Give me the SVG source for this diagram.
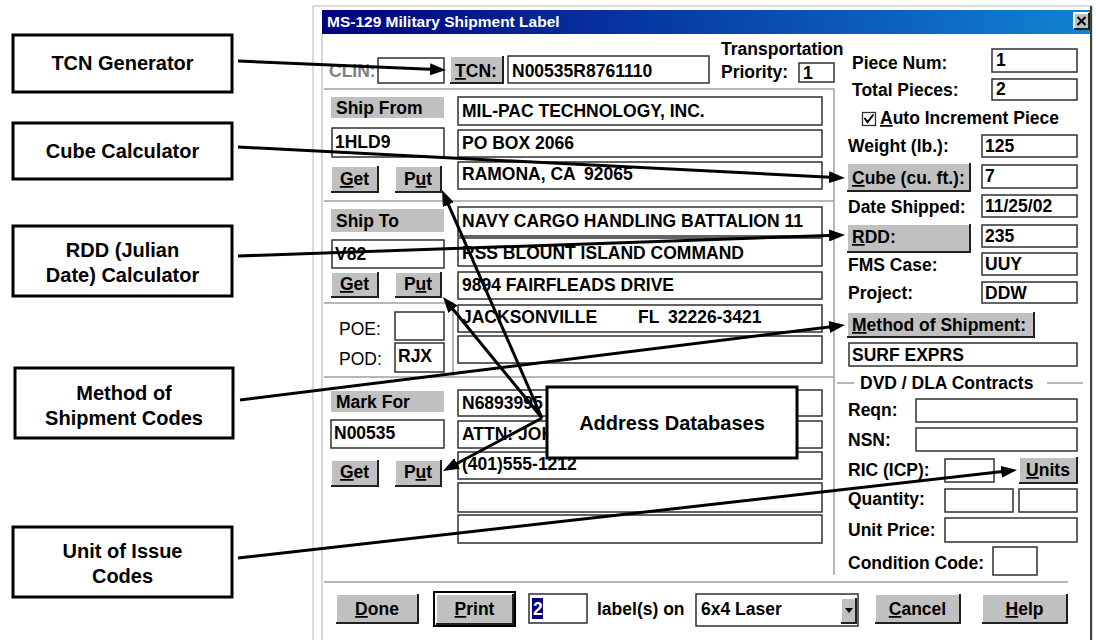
<svg xmlns="http://www.w3.org/2000/svg" width="1096" height="640" viewBox="0 0 1096 640">
<style>
.ui{font-family:"Liberation Sans",Arial,sans-serif;font-weight:bold;font-size:17.5px;fill:#000}
.gr{fill:#808080}
.tb{fill:#fff;stroke:#303030;stroke-width:1.5}
.bf{fill:#c0c0c0}
.bl{fill:none;stroke:#fff;stroke-width:2}
.bd{fill:none;stroke:#202020;stroke-width:2}
.lab{fill:#c0c0c0}
.sep{stroke:#a0a0a0;stroke-width:1.5;fill:none}
.co{fill:#fff;stroke:#000;stroke-width:3}
.ct{font-family:"Liberation Sans",Arial,sans-serif;font-weight:bold;font-size:20px;fill:#000;text-anchor:middle}
.cn{stroke:#000;stroke-width:3;fill:none;marker-end:url(#ah)}
.u{text-decoration:underline}
.mid{text-anchor:middle}
</style>
<defs>
<linearGradient id="tg" x1="0" y1="0" x2="1" y2="0">
<stop offset="0" stop-color="#000080"/>
<stop offset="1" stop-color="#1084d0"/>
</linearGradient>
<marker id="ah" markerUnits="userSpaceOnUse" markerWidth="16" markerHeight="12" refX="6" refY="6" orient="auto">
<path d="M0,0 L16,6 L0,12 z" fill="#000"/>
</marker>
</defs>
<rect width="1096" height="640" fill="#fff"/>

<g id="window">
<rect x="313" y="6" width="779" height="640" fill="#fff" stroke="#d4d0c8" stroke-width="1.5"/>
<line x1="322" y1="34" x2="322" y2="640" stroke="#c8c8c8" stroke-width="1.5"/>
<line x1="1091" y1="6" x2="1091" y2="640" stroke="#404040" stroke-width="2"/>
<rect x="322" y="10" width="768" height="24" fill="url(#tg)"/>
<text x="327" y="27" style="font-family:'Liberation Sans',Arial,sans-serif;font-weight:bold;font-size:15.5px;fill:#fff">MS-129 Military Shipment Label</text>
<rect class="bf" x="1074" y="13" width="15" height="16"/>
<path class="bl" d="M1074,29 V13 H1089" stroke-width="1"/>
<path class="bd" d="M1074,29 H1089 V13" stroke-width="1.5"/>
<path d="M1077.5,17 L1085.5,25 M1085.5,17 L1077.5,25" stroke="#000" stroke-width="2"/>

<path class="sep" d="M324,89 H834 V575 M324,201 H834 M324,303 H453 V377 M324,377 H834 M324,582 H1068 M837,383 H854 M1047,383 H1083"/>
</g>

<g id="top-row">
<text class="ui gr" x="329" y="77">CLIN:</text>
<rect class="tb" x="378" y="58" width="66" height="25"/>
<rect class="bf" x="450" y="56" width="53" height="27"/>
<path class="bl" d="M450,83 V56 H503"/><path class="bd" d="M450,83 H503 V56"/>
<text class="ui mid" x="476" y="77"><tspan class="u">T</tspan>CN:</text>
<rect class="tb" x="508" y="56" width="201" height="27"/>
<text class="ui" x="512" y="77">N00535R8761110</text>
<text class="ui" x="721" y="55">Transportation</text>
<text class="ui" x="721" y="78">Priority:</text>
<rect class="tb" x="799" y="63" width="35" height="19"/>
<text class="ui" x="803" y="79">1</text>
</g>

<g id="ship-from">
<rect class="lab" x="331" y="97" width="113" height="21"/>
<text class="ui" x="336" y="114">Ship From</text>
<rect class="tb" x="332" y="128" width="112" height="29"/>
<text class="ui" x="335" y="148">1HLD9</text>
<rect class="bf" x="331" y="166" width="47" height="26"/>
<path class="bl" d="M331,192 V166 H378"/><path class="bd" d="M331,192 H378 V166"/>
<text class="ui mid" x="354.5" y="185"><tspan class="u">G</tspan>et</text>
<rect class="bf" x="395" y="166" width="46" height="26"/>
<path class="bl" d="M395,192 V166 H441"/><path class="bd" d="M395,192 H441 V166"/>
<text class="ui mid" x="418" y="185">P<tspan class="u">u</tspan>t</text>
<rect class="tb" x="458" y="97" width="364" height="28"/>
<text class="ui" x="462" y="117">MIL-PAC TECHNOLOGY, INC.</text>
<rect class="tb" x="458" y="130" width="364" height="27"/>
<text class="ui" x="462" y="149">PO BOX 2066</text>
<rect class="tb" x="458" y="162" width="364" height="27"/>
<text class="ui" x="462" y="180">RAMONA, CA</text>
<text class="ui" x="584" y="180">92065</text>
</g>

<g id="ship-to">
<rect class="lab" x="331" y="209" width="113" height="23"/>
<text class="ui" x="336" y="227">Ship To</text>
<rect class="tb" x="332" y="240" width="112" height="28"/>
<text class="ui" x="335" y="260">V82</text>
<rect class="bf" x="331" y="272" width="47" height="25"/>
<path class="bl" d="M331,297 V272 H378"/><path class="bd" d="M331,297 H378 V272"/>
<text class="ui mid" x="354.5" y="290"><tspan class="u">G</tspan>et</text>
<rect class="bf" x="395" y="272" width="46" height="25"/>
<path class="bl" d="M395,297 V272 H441"/><path class="bd" d="M395,297 H441 V272"/>
<text class="ui mid" x="418" y="290">P<tspan class="u">u</tspan>t</text>
<rect class="tb" x="458" y="207" width="364" height="29"/>
<text class="ui" x="462" y="227">NAVY CARGO HANDLING BATTALION 11</text>
<rect class="tb" x="458" y="238" width="364" height="28"/>
<text class="ui" x="462" y="259">RSS BLOUNT ISLAND COMMAND</text>
<rect class="tb" x="458" y="272" width="364" height="27"/>
<text class="ui" x="462" y="291">9894 FAIRFLEADS DRIVE</text>
<rect class="tb" x="458" y="305" width="364" height="27"/>
<text class="ui" x="462" y="323">JACKSONVILLE</text>
<text class="ui" x="638" y="323">FL</text>
<text class="ui" x="668" y="323">32226-3421</text>
<rect class="tb" x="458" y="336" width="364" height="27"/>
</g>

<g id="poe-pod">
<text class="ui" style="font-weight:normal" x="339" y="335">POE:</text>
<rect class="tb" x="395" y="312" width="49" height="28"/>
<text class="ui" style="font-weight:normal" x="339" y="365">POD:</text>
<rect class="tb" x="395" y="343" width="49" height="29"/>
<text class="ui" x="398" y="362">RJX</text>
</g>

<g id="mark-for">
<rect class="lab" x="331" y="391" width="113" height="21"/>
<text class="ui" x="336" y="408">Mark For</text>
<rect class="tb" x="331" y="420" width="113" height="28"/>
<text class="ui" x="334" y="439">N00535</text>
<rect class="bf" x="331" y="460" width="47" height="26"/>
<path class="bl" d="M331,486 V460 H378"/><path class="bd" d="M331,486 H378 V460"/>
<text class="ui mid" x="354.5" y="478"><tspan class="u">G</tspan>et</text>
<rect class="bf" x="395" y="460" width="46" height="26"/>
<path class="bl" d="M395,486 V460 H441"/><path class="bd" d="M395,486 H441 V460"/>
<text class="ui mid" x="418" y="478">P<tspan class="u">u</tspan>t</text>
<rect class="tb" x="458" y="390" width="364" height="26"/>
<text class="ui" x="462" y="409">N6893995</text>
<rect class="tb" x="458" y="421" width="364" height="27"/>
<text class="ui" x="462" y="440">ATTN: JOH</text>
<rect class="tb" x="458" y="452" width="364" height="27"/>
<text class="ui" x="462" y="470">(401)555-1212</text>
<rect class="tb" x="458" y="483" width="364" height="29"/>
<rect class="tb" x="458" y="515" width="364" height="28"/>
</g>

<g id="pieces">
<text class="ui" x="852" y="69">Piece Num:</text>
<rect class="tb" x="992" y="49" width="85" height="23"/>
<text class="ui" x="996" y="66">1</text>
<text class="ui" x="852" y="96">Total Pieces:</text>
<rect class="tb" x="992" y="79" width="85" height="21"/>
<text class="ui" x="996" y="95">2</text>
<rect x="862.5" y="112.5" width="13" height="13" fill="#fff" stroke="#303030" stroke-width="1.3"/>
<path d="M864.5,118 L867.5,122 L873.5,114.5" fill="none" stroke="#000" stroke-width="2"/>
<text class="ui" x="880" y="124"><tspan class="u">A</tspan>uto Increment Piece</text>
</g>

<g id="shipment-info">
<text class="ui" x="848" y="152">Weight (lb.):</text>
<rect class="tb" x="982" y="135" width="95" height="22"/>
<text class="ui" x="985" y="152">125</text>
<rect class="bf" x="847" y="163" width="123" height="28"/>
<path class="bl" d="M847,191 V163 H970"/><path class="bd" d="M847,191 H970 V163"/>
<text class="ui" x="852" y="184"><tspan class="u">C</tspan>ube (cu. ft.):</text>
<rect class="tb" x="982" y="165" width="95" height="23"/>
<text class="ui" x="985" y="182">7</text>
<text class="ui" x="848" y="213">Date Shipped:</text>
<rect class="tb" x="982" y="195" width="95" height="22"/>
<text class="ui" x="985" y="212">11/25/02</text>
<rect class="bf" x="847" y="224" width="123" height="28"/>
<path class="bl" d="M847,252 V224 H970"/><path class="bd" d="M847,252 H970 V224"/>
<text class="ui" x="852" y="243"><tspan class="u">R</tspan>DD:</text>
<rect class="tb" x="982" y="225" width="95" height="22"/>
<text class="ui" x="985" y="242">235</text>
<text class="ui" x="848" y="271">FMS Case:</text>
<rect class="tb" x="982" y="253" width="95" height="22"/>
<text class="ui" x="985" y="270">UUY</text>
<text class="ui" x="848" y="299">Project:</text>
<rect class="tb" x="982" y="282" width="95" height="21"/>
<text class="ui" x="985" y="299">DDW</text>
<rect class="bf" x="847" y="312" width="187" height="25"/>
<path class="bl" d="M847,337 V312 H1034"/><path class="bd" d="M847,337 H1034 V312"/>
<text class="ui" x="852" y="331"><tspan class="u">M</tspan>ethod of Shipment:</text>
<rect class="tb" x="849" y="343" width="228" height="23"/>
<text class="ui" x="852" y="361">SURF EXPRS</text>
</g>

<g id="dvd-dla">
<text class="ui" x="860" y="389">DVD / DLA Contracts</text>
<text class="ui" x="848" y="416">Reqn:</text>
<rect class="tb" x="916" y="399" width="161" height="23"/>
<text class="ui" x="848" y="446">NSN:</text>
<rect class="tb" x="916" y="428" width="161" height="23"/>
<text class="ui" x="848" y="476">RIC (ICP):</text>
<rect class="tb" x="945" y="459" width="49" height="23"/>
<rect class="bf" x="1019" y="457" width="58" height="26"/>
<path class="bl" d="M1019,483 V457 H1077"/><path class="bd" d="M1019,483 H1077 V457"/>
<text class="ui mid" x="1048" y="476"><tspan class="u">U</tspan>nits</text>
<text class="ui" x="848" y="505">Quantity:</text>
<rect class="tb" x="945" y="489" width="68" height="23"/>
<rect class="tb" x="1019" y="489" width="58" height="23"/>
<text class="ui" x="848" y="536">Unit Price:</text>
<rect class="tb" x="945" y="518" width="132" height="24"/>
<text class="ui" x="848" y="569">Condition Code:</text>
<rect class="tb" x="993" y="547" width="44" height="28"/>
</g>

<g id="bottom-bar">
<rect class="bf" x="336" y="594" width="82" height="29"/>
<path class="bl" d="M336,623 V594 H418"/><path class="bd" d="M336,623 H418 V594"/>
<text class="ui mid" x="377" y="615"><tspan class="u">D</tspan>one</text>
<rect x="434" y="592" width="81" height="34" fill="none" stroke="#000" stroke-width="2"/>
<rect class="bf" x="436" y="594" width="77" height="30"/>
<path class="bl" d="M436,624 V594 H513"/><path class="bd" d="M436,624 H513 V594"/>
<text class="ui mid" x="474.5" y="615"><tspan class="u">P</tspan>rint</text>
<rect class="tb" x="529" y="594" width="58" height="29"/>
<rect x="532" y="598" width="11" height="21" fill="#000080"/>
<text class="ui" x="533" y="615" style="fill:#fff">2</text>
<text class="ui" x="597" y="615">label(s) on</text>
<rect class="tb" x="696" y="594" width="162" height="32"/>
<text class="ui" x="701" y="615">6x4 Laser</text>
<rect class="bf" x="841" y="598" width="15" height="25"/>
<path class="bl" d="M841,623 V598 H856" stroke-width="1"/><path class="bd" d="M841,623 H856 V598" stroke-width="1.5"/>
<path d="M845,608 H853 L849,613 z" fill="#000"/>
<rect class="bf" x="875" y="594" width="85" height="29"/>
<path class="bl" d="M875,623 V594 H960"/><path class="bd" d="M875,623 H960 V594"/>
<text class="ui mid" x="917.5" y="615"><tspan class="u">C</tspan>ancel</text>
<rect class="bf" x="982" y="594" width="85" height="29"/>
<path class="bl" d="M982,623 V594 H1067"/><path class="bd" d="M982,623 H1067 V594"/>
<text class="ui mid" x="1024.5" y="615"><tspan class="u">H</tspan>elp</text>
</g>

<g id="connectors">
<line class="cn" x1="238" y1="61" x2="436" y2="69.6"/>
<line class="cn" x1="238" y1="147" x2="835" y2="177.5"/>
<line class="cn" x1="238" y1="256" x2="835" y2="235.3"/>
<line class="cn" x1="240" y1="400" x2="835.1" y2="326.2"/>
<line class="cn" x1="238" y1="558" x2="1007.1" y2="471.1"/>
<line class="cn" x1="542" y1="418" x2="446" y2="199.2"/>
<line class="cn" x1="542" y1="418" x2="449.3" y2="304.7"/>
<line class="cn" x1="542" y1="418" x2="451.8" y2="466.3"/>
</g>

<g id="tcn-generator">
<rect class="co" x="13" y="35" width="219" height="57"/>
<text class="ct" x="122.5" y="70">TCN Generator</text>
</g>
<g id="cube-calculator">
<rect class="co" x="13" y="123" width="219" height="56"/>
<text class="ct" x="122.5" y="158">Cube Calculator</text>
</g>
<g id="rdd-calculator">
<rect class="co" x="13" y="226" width="219" height="70"/>
<text class="ct" x="122.5" y="257">RDD (Julian</text>
<text class="ct" x="122.5" y="282">Date) Calculator</text>
</g>
<g id="method-codes">
<rect class="co" x="15" y="368" width="218" height="70"/>
<text class="ct" x="124" y="400">Method of</text>
<text class="ct" x="124" y="425">Shipment Codes</text>
</g>
<g id="unit-codes">
<rect class="co" x="13" y="527" width="219" height="70"/>
<text class="ct" x="122.5" y="558">Unit of Issue</text>
<text class="ct" x="122.5" y="583">Codes</text>
</g>
<g id="address-databases">
<rect class="co" x="547" y="387" width="250" height="71"/>
<text class="ct" x="672" y="430">Address Databases</text>
</g>
</svg>
